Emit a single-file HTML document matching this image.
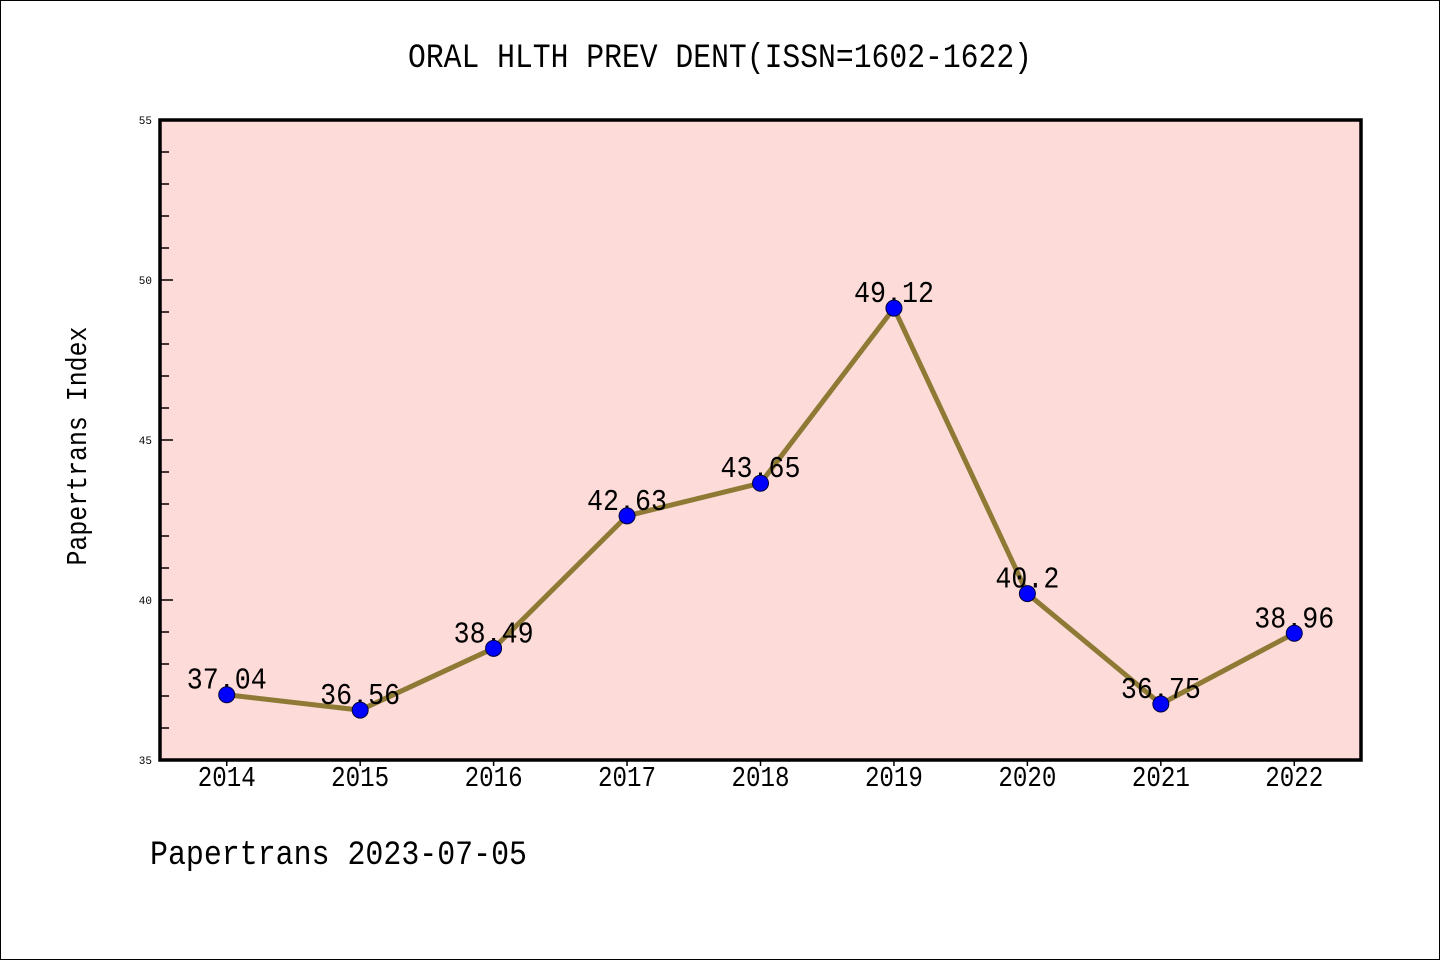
<!DOCTYPE html>
<html><head><meta charset="utf-8"><style>
body{margin:0;background:#fff}
svg{display:block}
text{font-family:"Liberation Mono","WenQuanYi Zen Hei",monospace;fill:#000}
</style></head><body>
<svg id="chart" width="1440" height="960" xmlns="http://www.w3.org/2000/svg">
<rect x="0.5" y="0.5" width="1439" height="959" fill="#fff" stroke="#000"/>
<text x="720" y="67" font-size="34" text-anchor="middle" textLength="624" lengthAdjust="spacingAndGlyphs">ORAL HLTH PREV DENT(ISSN=1602-1622)</text>
<rect x="160" y="120" width="1201" height="640" fill="#fddbd8"/>
<g id="axes"></g>
<g id="series"></g>
<rect x="160" y="120" width="1201" height="640" fill="none" stroke="#000" stroke-width="3.5"/>
<text transform="translate(86,446) rotate(-90)" font-size="29" text-anchor="middle" textLength="239" lengthAdjust="spacingAndGlyphs">Papertrans Index</text>
<text x="150" y="864" font-size="34" textLength="377" lengthAdjust="spacingAndGlyphs">Papertrans 2023-07-05</text>
</svg>
<script>
const years = [2014,2015,2016,2017,2018,2019,2020,2021,2022];
const values = [37.04,36.56,38.49,42.63,43.65,49.12,40.2,36.75,38.96];
const labels = ["37.04","36.56","38.49","42.63","43.65","49.12","40.2","36.75","38.96"];
const yTicks = [35,40,45,50,55];
const NS="http://www.w3.org/2000/svg";
const X0=160,X1=1361,Y0=760,Y1=120,YMIN=35,YMAX=55;
const xs=i=>X0+(i+0.5)*(X1-X0)/years.length;
const ys=v=>Y0-(v-YMIN)/(YMAX-YMIN)*(Y0-Y1);
function mk(tag,attrs,parent){const e=document.createElementNS(NS,tag);for(const k in attrs)e.setAttribute(k,attrs[k]);parent.appendChild(e);return e;}
const ax=document.getElementById('axes'), se=document.getElementById('series');
for(let v=YMIN;v<=YMAX;v++){
  const major=yTicks.includes(v);
  const t=mk('line',{x1:X0,x2:X0+(major?13:9),y1:ys(v),y2:ys(v),stroke:'#000','stroke-width':1.5},ax);
  
  
}
yTicks.forEach(v=>{
  const t=mk('text',{x:X0-8,y:ys(v)+4,'font-size':11,'text-anchor':'end'},ax);
  t.textContent=v;
  
  
});
years.forEach((y,i)=>{
  const t=mk('line',{x1:xs(i),x2:xs(i),y1:Y0,y2:Y0+6,stroke:'#000','stroke-width':1.5},ax);
  
  
  const l=mk('text',{x:xs(i),y:Y0+26,'font-size':29,'text-anchor':'middle',textLength:58,lengthAdjust:'spacingAndGlyphs'},ax);
  l.textContent=y;
  
  
});
const pts=values.map((v,i)=>xs(i)+','+ys(v)).join(' ');
const line=mk('polyline',{points:pts,fill:'none',stroke:'#8f7a35','stroke-width':5,'stroke-linejoin':'round'},se);


values.forEach((v,i)=>{
  const t=mk('text',{x:xs(i),y:ys(v)-6,'font-size':31,'text-anchor':'middle',textLength:labels[i].length*16,lengthAdjust:'spacingAndGlyphs'},se);
  t.textContent=labels[i];
  
  
});
values.forEach((v,i)=>{
  const c=mk('circle',{cx:xs(i),cy:ys(v),r:8,fill:'#0000ff',stroke:'#00003a','stroke-width':1},se);
  
  
});
</script>
</body></html>
